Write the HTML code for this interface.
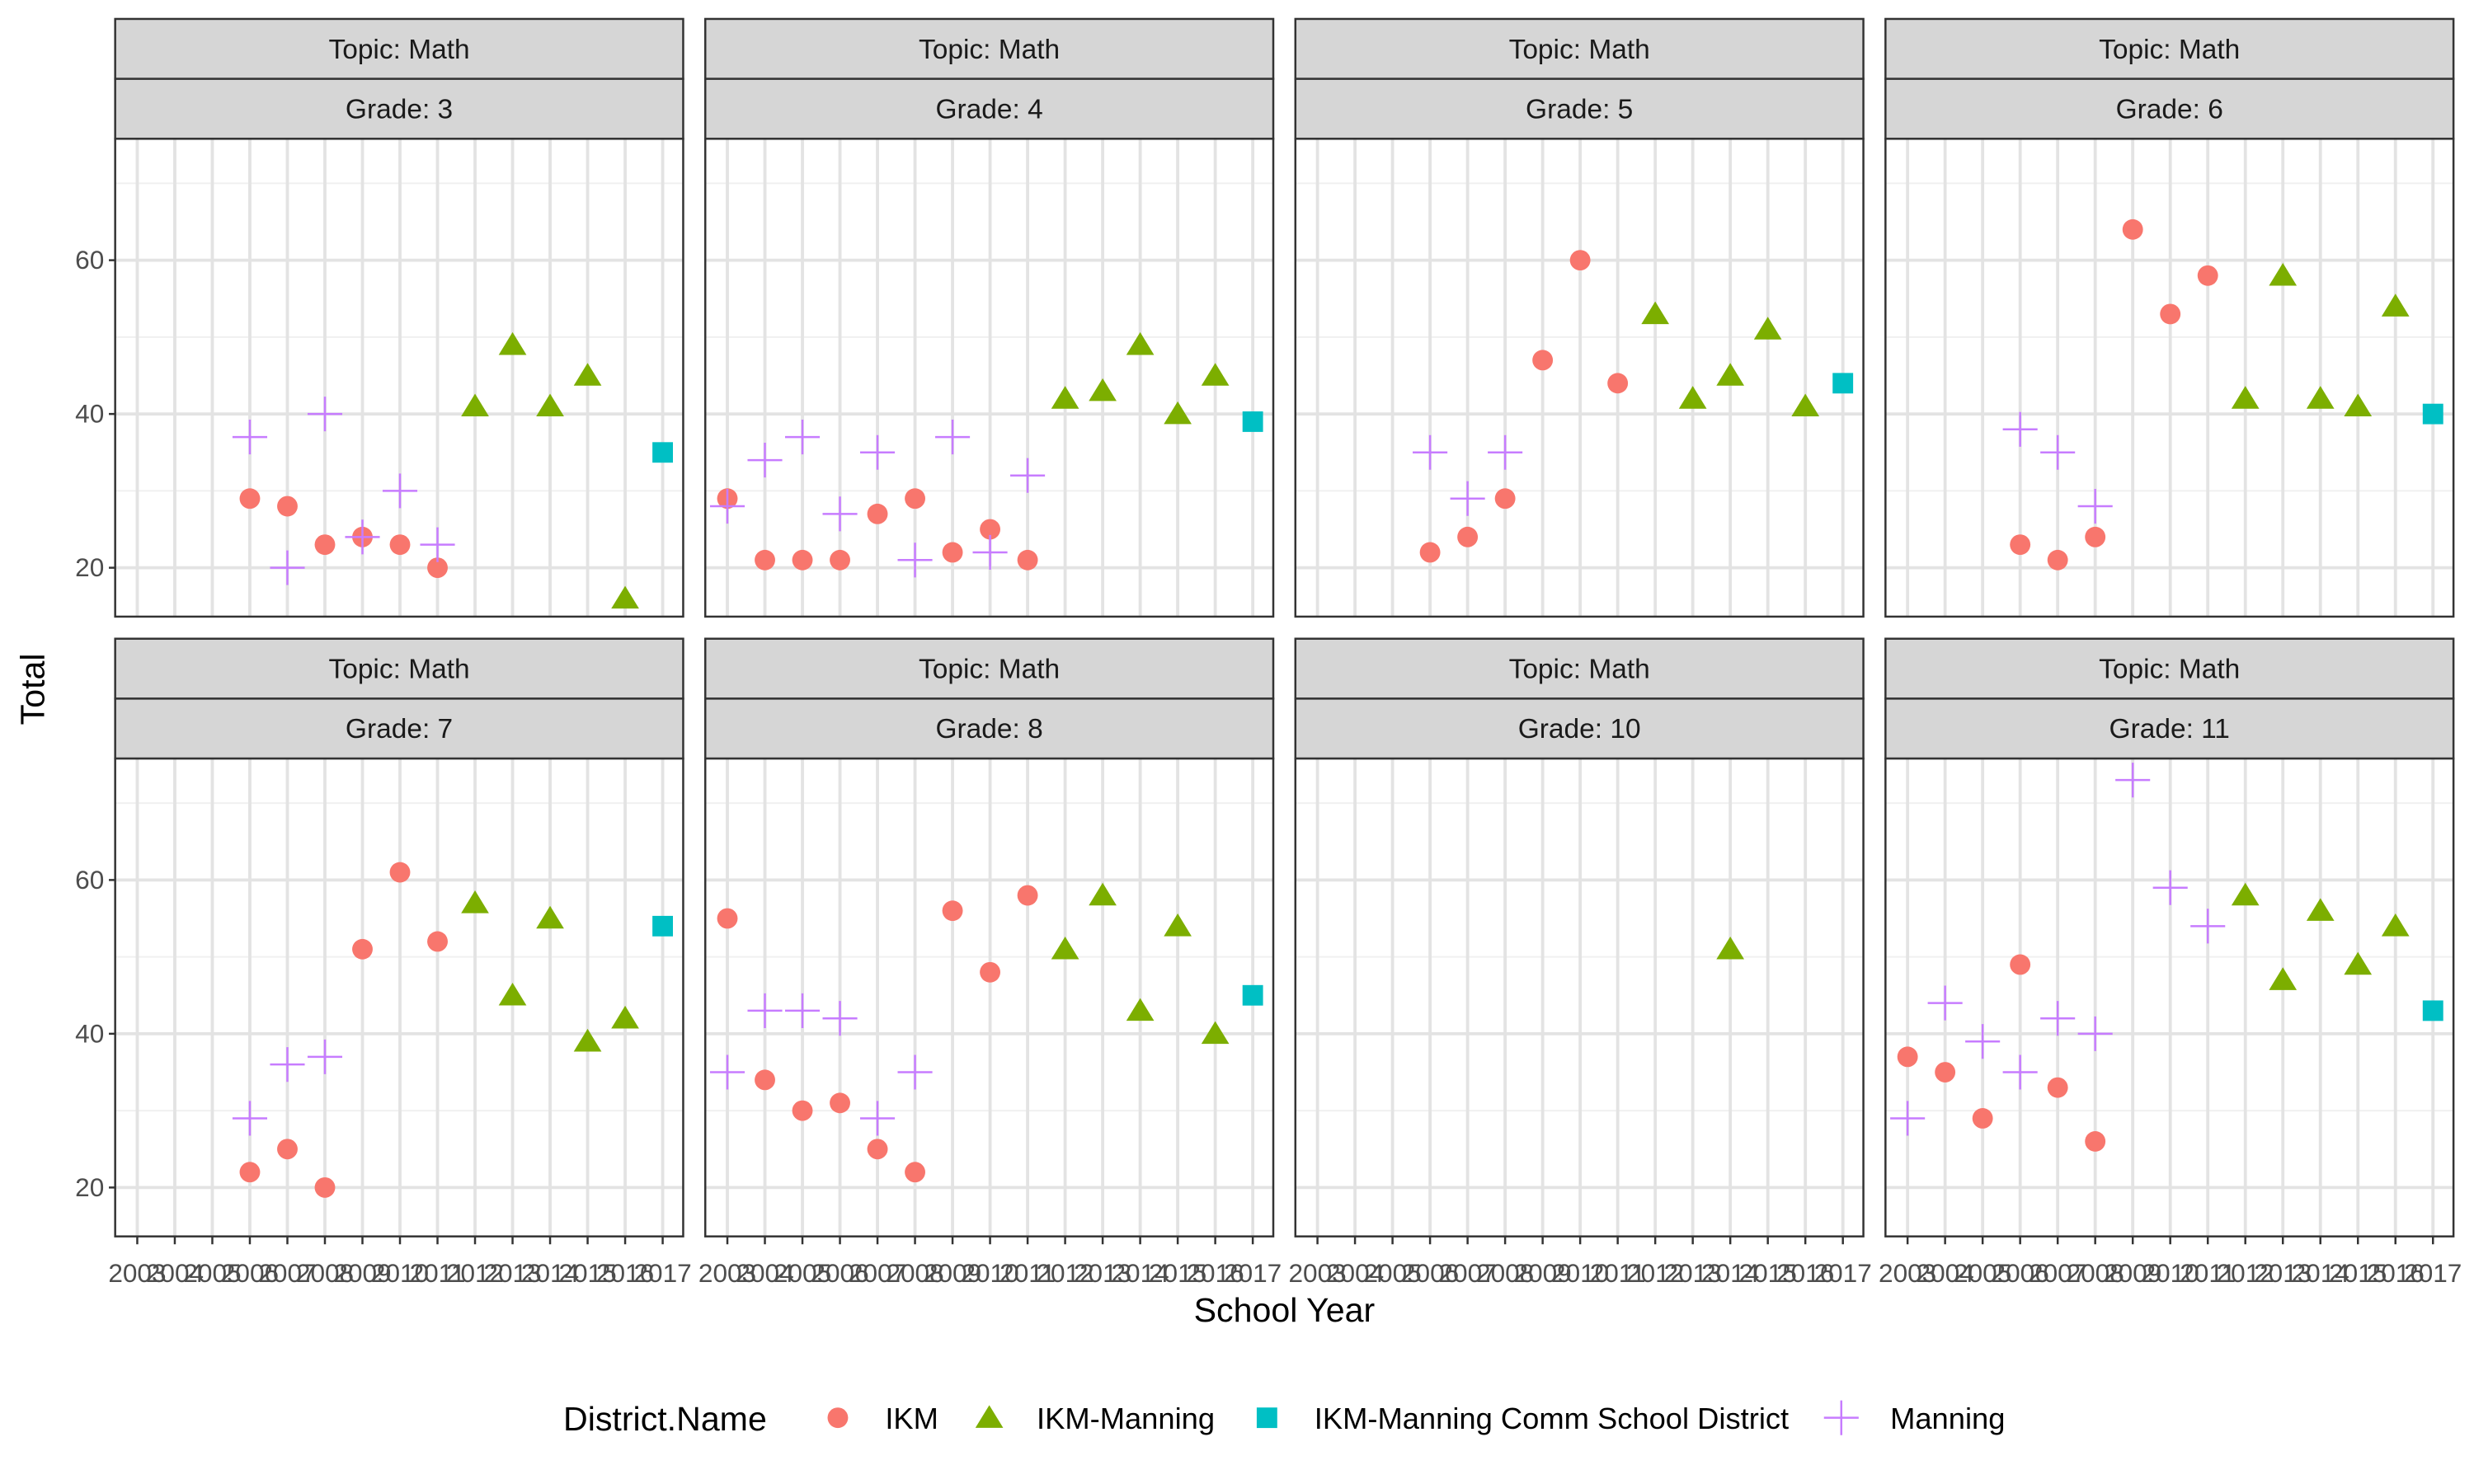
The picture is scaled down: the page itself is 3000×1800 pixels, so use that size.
<!DOCTYPE html>
<html><head><meta charset="utf-8"><style>
html,body{margin:0;padding:0;background:#fff}
svg{display:block;font-family:"Liberation Sans",Arial,sans-serif}
</style></head><body>
<svg id="chart" width="3000" height="1800" viewBox="0 0 1568 941" preserveAspectRatio="none" xmlns="http://www.w3.org/2000/svg">
<rect width="1568" height="941" fill="#fff"/>
<g id="panels"></g>
<text x="814" y="838" font-size="21.5" text-anchor="middle" fill="#000">School Year</text>
<text transform="translate(28,437) rotate(-90)" font-size="21.5" text-anchor="middle" fill="#000">Total</text>
<g id="legend"></g>
</svg>
<script>
const grades = ["3","4","5","6","7","8","10","11"];
const years = [2003,2004,2005,2006,2007,2008,2009,2010,2011,2012,2013,2014,2015,2016,2017];
const yTicks = [20,40,60];
const yMinor = [30,50,70];
const ikm = {
 "3":[[2006,29],[2007,28],[2008,23],[2009,24],[2010,23],[2011,20]],
 "4":[[2003,29],[2004,21],[2005,21],[2006,21],[2007,27],[2008,29],[2009,22],[2010,25],[2011,21]],
 "5":[[2006,22],[2007,24],[2008,29],[2009,47],[2010,60],[2011,44]],
 "6":[[2006,23],[2007,21],[2008,24],[2009,64],[2010,53],[2011,58]],
 "7":[[2006,22],[2007,25],[2008,20],[2009,51],[2010,61],[2011,52]],
 "8":[[2003,55],[2004,34],[2005,30],[2006,31],[2007,25],[2008,22],[2009,56],[2010,48],[2011,58]],
 "10":[],
 "11":[[2003,37],[2004,35],[2005,29],[2006,49],[2007,33],[2008,26]]
};
const manning = {
 "3":[[2006,37],[2007,20],[2008,40],[2009,24],[2010,30],[2011,23]],
 "4":[[2003,28],[2004,34],[2005,37],[2006,27],[2007,35],[2008,21],[2009,37],[2010,22],[2011,32]],
 "5":[[2006,35],[2007,29],[2008,35]],
 "6":[[2006,38],[2007,35],[2008,28]],
 "7":[[2006,29],[2007,36],[2008,37]],
 "8":[[2003,35],[2004,43],[2005,43],[2006,42],[2007,29],[2008,35]],
 "10":[],
 "11":[[2003,29],[2004,44],[2005,39],[2006,35],[2007,42],[2008,40],[2009,73],[2010,59],[2011,54]]
};
const ikmManning = {
 "3":[[2012,41],[2013,49],[2014,41],[2015,45],[2016,16]],
 "4":[[2012,42],[2013,43],[2014,49],[2015,40],[2016,45]],
 "5":[[2012,53],[2013,42],[2014,45],[2015,51],[2016,41]],
 "6":[[2012,42],[2013,58],[2014,42],[2015,41],[2016,54]],
 "7":[[2012,57],[2013,45],[2014,55],[2015,39],[2016,42]],
 "8":[[2012,51],[2013,58],[2014,43],[2015,54],[2016,40]],
 "10":[[2014,51]],
 "11":[[2012,58],[2013,47],[2014,56],[2015,49],[2016,54]]
};
const comm = {
 "3":[[2017,35]],"4":[[2017,39]],"5":[[2017,44]],"6":[[2017,40]],
 "7":[[2017,54]],"8":[[2017,45]],"10":[],"11":[[2017,43]]
};
const NS="http://www.w3.org/2000/svg";
function mk(tag,attrs,parent){const e=document.createElementNS(NS,tag);for(const k in attrs)e.setAttribute(k,attrs[k]);parent.appendChild(e);return e;}
const colX=[73,447,821,1195], W=360;
const rowTop=[12,405], stripH=38, plotH=303;
const C_IKM="#F8766D",C_TRI="#7CAE00",C_SQ="#00BFC4",C_MAN="#C77CFF";
function circle(g,x,y){const e=mk('circle',{cx:x,cy:y,r:6.5,fill:C_IKM},g);}
function tri(g,x,y){const s=8;const e=mk('polygon',{points:`${x},${y-s} ${x-s*1.1},${y+s*0.8} ${x+s*1.1},${y+s*0.8}`,fill:C_TRI},g);}
function sq(g,x,y){const e=mk('rect',{x:x-6.5,y:y-6.5,width:13,height:13,fill:C_SQ},g);}
function plus(g,x,y){const e=mk('path',{d:`M${x-11},${y}H${x+11}M${x},${y-11}V${y+11}`,stroke:C_MAN,'stroke-width':1.3,fill:'none'},g);}
const root=document.getElementById('panels');
grades.forEach((gr,i)=>{
  const r=Math.floor(i/4), c=i%4;
  const x0=colX[c], top=rowTop[r], py=top+2*stripH, pb=py+plotH;
  const xs=yr=>x0+14+(yr-2003)*(333/14);
  const ys=v=>py+272-(v-20)*(195/40);
  const g=mk('g',{},root);
  
  
  const s1=mk('rect',{x:x0,y:top,width:W,height:stripH,fill:'#D6D6D6',stroke:'#333','stroke-width':1.3},g);
  
  const t1=mk('text',{x:x0+W/2,y:top+25,'font-size':17.5,'text-anchor':'middle',fill:'#1a1a1a'},g);t1.textContent='Topic: Math';
  
  const s2=mk('rect',{x:x0,y:top+stripH,width:W,height:stripH,fill:'#D6D6D6',stroke:'#333','stroke-width':1.3},g);
  
  const t2=mk('text',{x:x0+W/2,y:top+stripH+25,'font-size':17.5,'text-anchor':'middle',fill:'#1a1a1a'},g);t2.textContent='Grade: '+gr;
  
  mk('rect',{x:x0,y:py,width:W,height:plotH,fill:'#fff'},g);
  yMinor.forEach(v=>mk('line',{x1:x0,x2:x0+W,y1:ys(v),y2:ys(v),stroke:'#F0F0F0','stroke-width':1},g));
  yTicks.forEach(v=>mk('line',{x1:x0,x2:x0+W,y1:ys(v),y2:ys(v),stroke:'#E3E3E3','stroke-width':2},g));
  years.forEach(yr=>mk('line',{x1:xs(yr),x2:xs(yr),y1:py,y2:pb,stroke:'#E3E3E3','stroke-width':2},g));
  ikm[gr].forEach(d=>circle(g,xs(d[0]),ys(d[1])));
  ikmManning[gr].forEach(d=>tri(g,xs(d[0]),ys(d[1])));
  comm[gr].forEach(d=>sq(g,xs(d[0]),ys(d[1])));
  manning[gr].forEach(d=>plus(g,xs(d[0]),ys(d[1])));
  mk('rect',{x:x0,y:py,width:W,height:plotH,fill:'none',stroke:'#333','stroke-width':1.3},g);
  if(c===0){yTicks.forEach(v=>{mk('line',{x1:x0-4,x2:x0,y1:ys(v),y2:ys(v),stroke:'#333','stroke-width':1.3},g);
    const t=mk('text',{x:x0-7,y:ys(v)+5.5,'font-size':16.5,'text-anchor':'end',fill:'#4d4d4d'},g);t.textContent=v;
    });}
  if(r===1){years.forEach(yr=>{mk('line',{x1:xs(yr),x2:xs(yr),y1:pb,y2:pb+5,stroke:'#333','stroke-width':1.3},g);
    const t=mk('text',{x:xs(yr),y:pb+29,'font-size':16.5,'text-anchor':'middle',fill:'#4d4d4d'},g);t.textContent=yr;
    });}
});
const lg=document.getElementById('legend');
const lt=mk('text',{x:357,y:907,'font-size':21.5,fill:'#000'},lg);lt.textContent='District.Name';

const entries=[["IKM",531,561,circle],["IKM-Manning",627,657,tri],["IKM-Manning Comm School District",803,833,sq],["Manning",1167,1198,plus]];
entries.forEach(e=>{const g=mk('g',{},lg);
  e[3](g,e[1],899);const t=mk('text',{x:e[2],y:906,'font-size':19,fill:'#000'},g);t.textContent=e[0];});
</script>
</body></html>
